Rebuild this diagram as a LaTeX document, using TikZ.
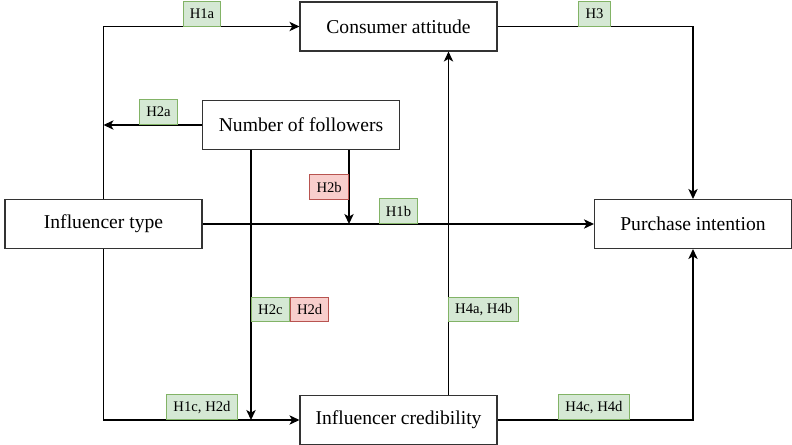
\documentclass[tikz,border=0pt]{standalone}
\usepackage{fontspec}
\setmainfont{Liberation Serif}
\usetikzlibrary{arrows.meta}
\definecolor{hypfill}{HTML}{D5E8D4}
\definecolor{hypline}{HTML}{82B366}
\definecolor{negfill}{HTML}{F8CECC}
\definecolor{negline}{HTML}{B85450}
\begin{document}
\begin{tikzpicture}[
        x=0.75pt, y=-0.75pt,
        var/.style={rectangle, draw=black!80, thick, minimum width=147.75pt, minimum height=36.75pt, font=\fontsize{14.7}{17}\selectfont},
        hyp/.style={rectangle, draw=hypline, fill=hypfill, thick, minimum height=18.5pt, inner xsep=5pt, font=\fontsize{11}{13}\selectfont},
        neg/.style={hyp, draw=negline, fill=negfill},
        arrow/.style={-{Stealth[length=7.5pt, width=7pt, inset=2pt]}, line width=1pt}
    ]
        \useasboundingbox (0,0) rectangle (792,445);

        % Variables
        \node[var] (attitude) at (398.5, 26.5) {Consumer attitude};
        \node[var] (followers) at (301, 125) {Number of followers};
        \node[var] (type) at (103.5, 224) {Influencer type};
        \node[var] (purchase) at (693, 224) {Purchase intention};
        \node[var] (cred) at (398.5, 420) {Influencer credibility};

        % Branch points
        \path (followers.south) ++(48, 0) coordinate (fol_b);
        \path (followers.south) ++(-50, 0) coordinate (fol_c);
        \path (cred.north) ++(50, 0) coordinate (cred_a);

        % Connections
        \draw[arrow] (type.north) |- (attitude.west);
        \draw[arrow] (followers.west) -- (followers.west -| type.north);
        \draw[arrow] (fol_b) -- (fol_b |- type.east);
        \draw[arrow] (type.east) -- (purchase.west);
        \draw[arrow] (fol_c) -- (fol_c |- cred.west);
        \draw[arrow] (type.south) |- (cred.west);
        \draw[arrow] (cred_a) -- (cred_a |- attitude.south);
        \draw[arrow] (attitude.east) -| (purchase.north);
        \draw[arrow] (cred.east) -| (purchase.south);

        % Hypotheses
        \node[hyp, anchor=south] (h1a) at (202, 27) {H1a};
        \node[hyp, anchor=south] (h2a) at (158.5, 125) {H2a};
        \node[neg, anchor=south east] (h2b) at (349, 200) {H2b};
        \node[hyp, anchor=south] (h1b) at (398.5, 224) {H1b};
        \node[hyp, anchor=west] (h2c) at (251, 309.5) {H2c};
        \node[neg, anchor=west] (h2d) at (h2c.east) {H2d};
        \node[hyp, anchor=west] (h4ab) at (448, 309.5) {H4a, H4b};
        \node[hyp, anchor=south] (h1c) at (202, 420) {H1c, H2d};
        \node[hyp, anchor=south] (h3) at (594.5, 27) {H3};
        \node[hyp, anchor=south] (h4cd) at (594, 420) {H4c, H4d};
    \end{tikzpicture}
\end{document}
